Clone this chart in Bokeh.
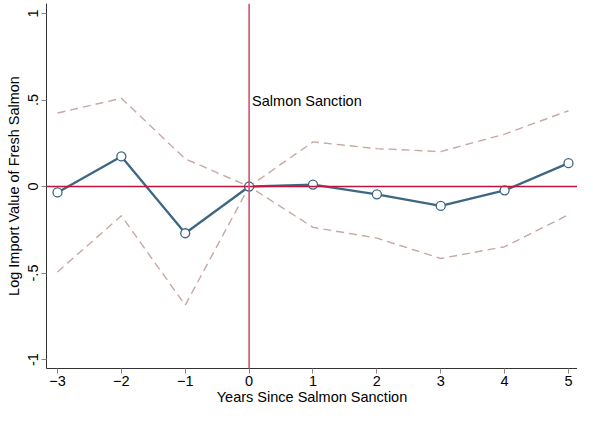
from bokeh.plotting import figure
from bokeh.models import Range1d, FixedTicker, Span, Label
from bokeh.embed import file_html
from bokeh.resources import INLINE

years = [-3, -2, -1, 0, 1, 2, 3, 4, 5]
estimate = [-0.034, 0.174, -0.27, 0.0, 0.011, -0.045, -0.112, -0.022, 0.135]
upper = [0.425, 0.51, 0.16, 0.0, 0.258, 0.219, 0.202, 0.303, 0.438]
lower = [-0.494, -0.169, -0.686, 0.0, -0.236, -0.298, -0.416, -0.348, -0.163]
y_ticks = [-1, -0.5, 0, 0.5, 1]
y_tick_labels = {-1: "-1", -0.5: "-.5", 0: "0", 0.5: ".5", 1: "1"}

FONT = "Liberation Sans"

p = figure(width=577, height=408, output_backend="svg", toolbar_location=None,
           x_range=Range1d(-3.172, 5.141), y_range=Range1d(-1.052, 1.058),
           min_border_left=46, min_border_right=0, min_border_top=3,
           min_border_bottom=40)
p.outline_line_color = None
p.grid.visible = False
p.background_fill_color = "white"

for ax in (p.xaxis[0], p.yaxis[0]):
    ax.axis_line_color = "#333333"
    ax.major_tick_line_color = "#888888"
    ax.minor_tick_line_color = None
    ax.major_tick_out = 5
    ax.major_tick_in = 0
    ax.major_label_text_font = FONT
    ax.major_label_text_font_size = "14.5px"
    ax.major_label_text_color = "black"
    ax.axis_label_text_font = FONT
    ax.axis_label_text_font_size = "14.5px"
    ax.axis_label_text_font_style = "normal"
    ax.axis_label_text_color = "black"

p.xaxis.ticker = FixedTicker(ticks=years)
p.xaxis.axis_label = "Years Since Salmon Sanction"
p.xaxis.axis_label_standoff = 0
p.xaxis.major_label_standoff = 2
p.yaxis.ticker = FixedTicker(ticks=y_ticks)
p.yaxis.major_label_overrides = y_tick_labels
p.yaxis.major_label_orientation = "vertical"
p.yaxis.axis_label = "Log Import Value of Fresh Salmon"
p.yaxis.axis_label_standoff = 4
p.yaxis.major_label_standoff = 3

p.add_layout(Span(location=0, dimension="width", line_color="#c0143c", line_width=1.3))
p.add_layout(Span(location=0, dimension="height", line_color="#d6526f", line_width=1.6))

p.line(years, upper, line_color="#c7a8a2", line_width=1.4, line_dash="8 5")
p.line(years, lower, line_color="#c7a8a2", line_width=1.4, line_dash="8 5")
p.line(years, estimate, line_color="#3d6782", line_width=2.3)
p.scatter(years, estimate, size=9, fill_color="white", line_color="#3d6782", line_width=1.3)

p.add_layout(Label(x=0, y=0.5, text="Salmon Sanction", x_offset=3, y_offset=-1,
                   text_font=FONT, text_font_size="14.5px", text_color="black",
                   text_baseline="middle"))

open("out.html", "w").write(file_html(p, INLINE))
